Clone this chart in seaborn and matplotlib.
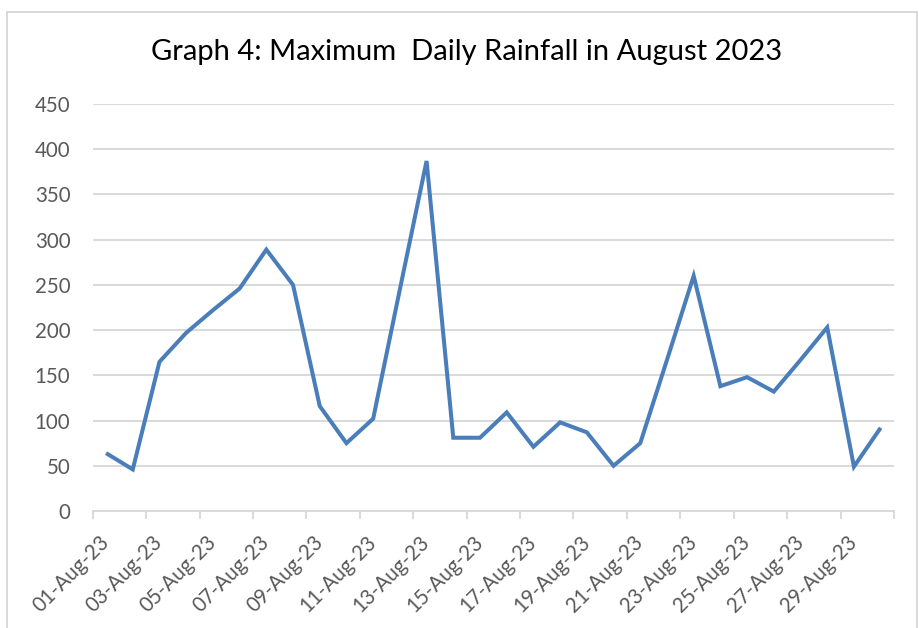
import matplotlib
matplotlib.use("Agg")
import matplotlib.pyplot as plt
import matplotlib.ticker as mticker
from matplotlib.patches import Rectangle
import seaborn as sns
import pandas as pd

# Daily maximum rainfall, 01-30 August 2023
days = [f"{d:02d}-Aug-23" for d in range(1, 31)]
rainfall = [64, 46, 165, 197, 222, 246, 289, 250, 116, 75,
            102, 245, 387, 81, 81, 109, 71, 98, 87, 50,
            75, 167, 260, 138, 148, 132, 167, 203, 49, 92]
y_ticks = [0, 50, 100, 150, 200, 250, 300, 350, 400, 450]
title = "Graph 4: Maximum  Daily Rainfall in August 2023"

df = pd.DataFrame({"idx": range(len(days)), "day": days, "rain": rainfall})

sns.set_theme(style="white")
plt.rcParams["font.family"] = ["Lato", "DejaVu Sans"]

W, H = 919, 628
fig = plt.figure(figsize=(W / 100, H / 100), dpi=100)
ax = fig.add_axes([92.7 / W, 1 - 511 / H, (894 - 92.7) / W, (511 - 104) / H])

grid_c = "#d9d9d9"
text_c = "#595959"

sns.lineplot(data=df, x="idx", y="rain", ax=ax, color="#4A7EBB",
             linewidth=2.9, solid_joinstyle="miter", solid_capstyle="butt")

ax.set_xlim(-0.5, len(days) - 0.5)
ax.set_ylim(0, 450)
ax.set_yticks(y_ticks)
ax.yaxis.grid(True, color=grid_c, linewidth=1.4)
ax.set_axisbelow(True)

# Category labels on every other day; tick marks on category boundaries
ax.set_xticks(range(0, len(days), 2))
ax.set_xticklabels(days[::2], rotation=45, ha="right", va="center",
                   rotation_mode="anchor", fontsize=14.8, color=text_c)
ax.xaxis.set_minor_locator(mticker.FixedLocator([i - 0.5 for i in range(0, len(days) + 1, 2)]))
ax.tick_params(axis="x", which="major", length=0, pad=20)
ax.tick_params(axis="x", which="minor", length=6, width=1.4, color=grid_c,
               direction="out", bottom=True)
ax.tick_params(axis="y", length=0, pad=16, labelsize=14.8, labelcolor=text_c)

for s in ["top", "right", "left"]:
    ax.spines[s].set_visible(False)
ax.spines["bottom"].set_color(grid_c)
ax.spines["bottom"].set_linewidth(1.4)

ax.set_xlabel("")
ax.set_ylabel("")

fig.text(467 / W, 1 - 52 / H, title, ha="center", va="center",
         fontsize=21, color="black")

# Chart-area border
fig.patches.append(Rectangle((7 / W, -0.01), (917 - 7) / W, 1.01 - 12 / H,
                             transform=fig.transFigure, fill=False,
                             edgecolor=grid_c, linewidth=1.4))

fig.savefig("out.png", dpi=100, facecolor="white")
